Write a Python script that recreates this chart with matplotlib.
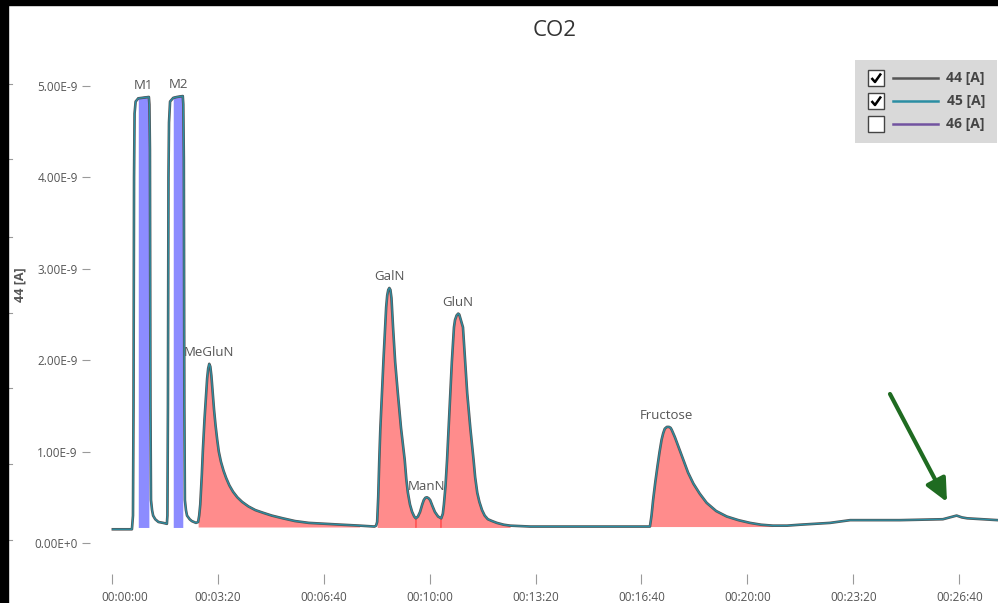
import matplotlib

matplotlib.use("Agg")
import matplotlib.pyplot as plt
import numpy as np
from matplotlib.lines import Line2D
from matplotlib.patches import FancyArrowPatch, Rectangle
from matplotlib.ticker import FixedLocator, FuncFormatter
from matplotlib.transforms import ScaledTranslation

plt.rcParams["font.family"] = ["Open Sans", "Noto Sans", "DejaVu Sans"]

W, H = 998, 603

# retention time [s] and ion current of m/z 44 [1e-9 A]
time_s = [
    2, 38, 40, 41, 42, 43, 45, 50, 57, 70, 71, 72, 73, 74, 76, 78, 82, 88, 97, 104,
    105, 106, 107, 108, 110, 116, 123, 134, 135, 136, 137, 138, 140, 142, 147, 151, 159, 163,
    165, 167, 170, 172, 175, 178, 180, 182, 184, 186, 188, 190, 193, 196, 199, 202, 206, 211,
    216, 222, 229, 237, 246, 258, 271, 286, 302, 323, 346, 372, 402, 435, 468, 496,
    499, 501, 503, 505, 507, 510, 513, 516, 518, 520, 522, 524, 526, 528, 531, 535, 540, 546,
    553, 556, 559, 563, 567, 571, 574,
    578, 582, 586, 589, 592, 595, 598, 601, 605, 610, 616, 622,
    625, 627, 630, 633, 636, 639, 642, 646, 648, 651, 654, 656, 658, 660, 663, 667, 671, 677,
    683, 686, 690, 694, 699, 704, 710, 718, 727, 740, 752, 790, 828, 922, 1012,
    1016, 1019, 1022, 1026, 1030, 1034, 1038, 1041, 1044, 1048, 1052, 1055, 1057, 1060, 1063,
    1070, 1079, 1088, 1098, 1110, 1123, 1141, 1161, 1183, 1205, 1226, 1248, 1275, 1299,
    1356, 1394, 1488, 1569, 1582, 1595, 1605, 1615, 1673,
]
signal = [
    0.15, 0.15, 0.30, 1.50, 4.00, 4.70, 4.83, 4.865, 4.87, 4.88, 4.80, 4.30, 1.50, 0.47, 0.36,
    0.30, 0.26, 0.23, 0.22, 0.21,
    0.30, 1.50, 4.00, 4.60, 4.83, 4.87, 4.88, 4.89, 4.80, 4.20, 1.50, 0.47, 0.36, 0.30, 0.26,
    0.24, 0.22, 0.23,
    0.30, 0.42, 0.75, 1.02, 1.35, 1.62, 1.80, 1.91, 1.96, 1.93, 1.83, 1.68, 1.46, 1.28, 1.13,
    1.00, 0.89, 0.79, 0.71, 0.63, 0.56, 0.50, 0.45, 0.40, 0.36, 0.33, 0.30, 0.27, 0.24, 0.22,
    0.21, 0.20, 0.19, 0.18,
    0.19, 0.23, 0.50, 0.91, 1.25, 1.64, 2.01, 2.36, 2.58, 2.71, 2.77, 2.79, 2.77, 2.68, 2.36,
    1.98, 1.64, 1.26, 0.91, 0.70, 0.55, 0.42, 0.34, 0.29, 0.27,
    0.29, 0.34, 0.42, 0.47, 0.495, 0.50, 0.49, 0.47, 0.41, 0.34, 0.29, 0.27,
    0.32, 0.42, 0.62, 0.91, 1.27, 1.64, 1.98, 2.36, 2.44, 2.49, 2.51, 2.50, 2.46, 2.42, 2.36,
    2.00, 1.64, 1.25, 0.91, 0.72, 0.55, 0.45, 0.36, 0.30, 0.26, 0.24, 0.22, 0.20, 0.19, 0.18,
    0.18, 0.18, 0.18,
    0.18, 0.30, 0.47, 0.66, 0.83, 0.99, 1.13, 1.20, 1.25, 1.27, 1.27, 1.26, 1.24, 1.20, 1.16,
    1.05, 0.91, 0.77, 0.65, 0.54, 0.44, 0.35, 0.29, 0.25, 0.22, 0.20, 0.19, 0.19, 0.20,
    0.22, 0.25, 0.25, 0.26, 0.28, 0.30, 0.28, 0.27, 0.25,
]

# integrated peaks: name, start/end [s], baseline [1e-9 A], kind
peak_names = ["M1", "M2", "MeGluN", "GalN", "ManN", "GluN", "Fructose"]
peak_start = [50, 116, 163, 501, 574, 622, 1016]
peak_end = [70, 134, 468, 574, 622, 752, 1248]
peak_base = [0.17, 0.17, 0.175, 0.17, 0.17, 0.17, 0.18]
peak_kind = ["marker", "marker", "peak", "peak", "peak", "peak", "peak"]

y_ticks = [0, 1, 2, 3, 4, 5]
x_ticks = [0, 200, 400, 600, 800, 1000, 1200, 1400, 1600]

legend_labels = ["44 [A]", "45 [A]", "46 [A]"]
legend_checked = [True, True, False]
legend_colors = ["#555555", "#2b8ea3", "#7253a0"]

t = np.array(time_s, dtype=float)
v = np.array(signal, dtype=float)


def fx(x):
    return x / W


def fy(y):
    return 1 - y / H


def fmt_time(s, _pos):
    s = int(round(s))
    return f"{s // 3600:02d}:{(s % 3600) // 60:02d}:{s % 60:02d}"


def fmt_amp(val, _pos):
    return "0.00E+0" if abs(val) < 1e-9 else f"{val:.2f}E-9"


fig = plt.figure(figsize=(W / 100, H / 100), dpi=100)
fig.patch.set_facecolor("white")

# frame strips of the screenshot
fig.add_artist(Rectangle((0, 0), fx(8), 1, transform=fig.transFigure, color="black", zorder=10))
fig.add_artist(Rectangle((0, fy(5)), 1, fy(0) - fy(5), transform=fig.transFigure, color="black", zorder=10))
for yy in (84, 159, 237, 313, 388, 464, 540):
    fig.add_artist(Line2D([fx(9), fx(12)], [fy(yy), fy(yy)], transform=fig.transFigure,
                          color="#999999", lw=0.8))

ax = fig.add_axes([fx(100), fy(574), fx(998) - fx(100), fy(60) - fy(574)])
ax.set_xlim((100 - 111.8) * 1.888, (998 - 111.8) * 1.888)
ax.set_ylim((543 - 574) / 91.4, (543 - 60) / 91.4)
for sp in ax.spines.values():
    sp.set_visible(False)
ax.spines["left"].set_position(("outward", 7))

ax.xaxis.set_major_locator(FixedLocator(x_ticks))
ax.xaxis.set_major_formatter(FuncFormatter(fmt_time))
ax.yaxis.set_major_locator(FixedLocator(y_ticks))
ax.yaxis.set_major_formatter(FuncFormatter(fmt_amp))
ax.tick_params(axis="both", colors="#9a9a9a", labelcolor="#555555", labelsize=8.5,
               length=6, width=0.8)
ax.tick_params(axis="y", pad=3)
ax.tick_params(axis="x", length=7, pad=5)

ax.set_ylabel("44 [A]", fontsize=9, fontweight="bold", color="#555555")
ax.yaxis.set_label_coords((26 - 100) / 898, (574 - 285) / 514)

fig.text(fx(555), fy(30), "CO2", ha="center", va="center", fontsize=16, color="#333333")

# peak areas
for name, a, b, base, kind in zip(peak_names, peak_start, peak_end, peak_base, peak_kind):
    m = (t >= a) & (t <= b)
    if kind == "marker":
        ax.fill_between(t[m], v[m], base, color="#8c8cff", lw=0, zorder=2)
        ax.plot(t[m], v[m], color="#3a4bd0", lw=1.2, zorder=2)
        lx, ly = (a + b) / 2, v[m].max()
    else:
        ax.fill_between(t[m], v[m], base, color="#ff8c8c", lw=0, zorder=2)
        i = np.argmax(v[m])
        lx, ly = t[m][i], v[m][i]
    ax.annotate(name, (lx, ly), xytext=(0, 8), textcoords="offset points", ha="center",
                va="center", fontsize=9.5, color="#555555", zorder=5)

# split markers between neighbouring peaks
for a, base in zip(peak_start[4:6], peak_base[4:6]):
    ax.plot([a, a], [base, v[t == a][0]], color="#ff5050", lw=1.2, zorder=3)

ax.plot(t, v, color=legend_colors[0], lw=1.9, zorder=3)
ax.plot(t, v, color=legend_colors[1], lw=0.9, zorder=4)

# annotation arrow
fig.add_artist(FancyArrowPatch((fx(890), fy(394)), (fx(947), fy(502)), transform=fig.transFigure,
                               arrowstyle="-|>,head_length=5.5,head_width=2.6", mutation_scale=2.5,
                               color="#1f6b21", lw=3.0, shrinkA=0, shrinkB=0))

# legend panel
lg = fig.add_axes([fx(855), fy(143), fx(997) - fx(855), fy(60) - fy(143)])
lg.set_xlim(855, 997)
lg.set_ylim(143, 60)
lg.set_facecolor("#d9d9d9")
lg.set_xticks([])
lg.set_yticks([])
for sp in lg.spines.values():
    sp.set_visible(False)
for k, (lab, chk, col) in enumerate(zip(legend_labels, legend_checked, legend_colors)):
    yc = 78 + 23 * k
    lg.add_patch(Rectangle((868, yc - 8), 16, 16, facecolor="white", edgecolor="#444444", lw=1))
    if chk:
        lg.plot([871.5, 875, 881], [yc, yc + 4, yc - 4.5], color="black", lw=1.8,
                solid_capstyle="butt")
    lg.plot([893, 938], [yc, yc], color=col, lw=1.8)
    lg.text(985, yc, lab, ha="right", va="center", fontsize=10, fontweight="bold", color="#444444")

first = ax.xaxis.get_major_ticks()[0].label1
first.set_horizontalalignment("left")
first.set_transform(first.get_transform() + ScaledTranslation(-10 / 100, 0, fig.dpi_scale_trans))

fig.savefig("out.png", dpi=100)
